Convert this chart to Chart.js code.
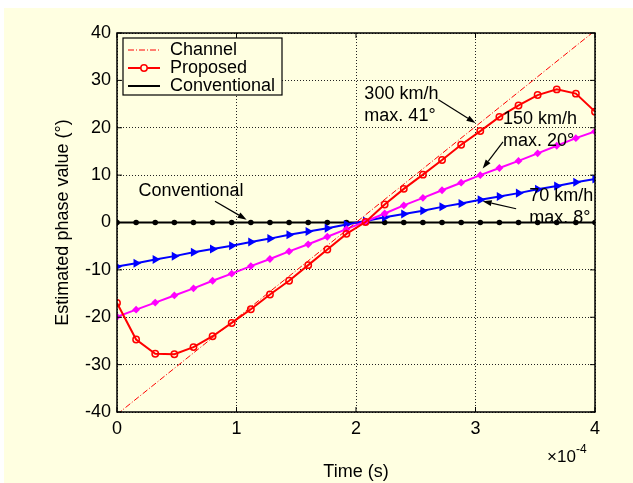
<!DOCTYPE html>
<html>
<head>
<meta charset="utf-8">
<script src="https://cdn.jsdelivr.net/npm/chart.js@4"></script>
<style>
html, body { margin: 0; background: #fff; }
canvas { display: block; }
</style>
</head>
<body>
<canvas id="phaseChart" width="633" height="483"></canvas>
<script>
// time axis in units of 1e-4 s
const timeE4 = [0, 0.16, 0.32, 0.48, 0.64, 0.8, 0.96, 1.12, 1.28, 1.44, 1.6, 1.76, 1.92,
                2.08, 2.24, 2.4, 2.56, 2.72, 2.88, 3.04, 3.2, 3.36, 3.52, 3.68, 3.84, 4.0];
const channelTime = [0, 4];
const channelPhase = [-40.5, 40.5];
const proposed = [-17.0, -24.7, -27.7, -27.8, -26.3, -24.0, -21.2, -18.3, -15.2, -12.3, -9.0, -5.7, -2.4,
                  0.1, 3.8, 7.1, 10.1, 13.2, 16.4, 19.3, 22.3, 24.7, 26.9, 28.1, 27.2, 23.4];
const kmh150 = [-19.9, -18.4, -16.9, -15.4, -13.9, -12.3, -10.8, -9.2, -7.7, -6.1, -4.6, -3.0, -1.4,
                0.2, 1.9, 3.6, 5.2, 6.8, 8.4, 10.0, 11.5, 13.0, 14.6, 16.2, 17.8, 19.2];
const kmh70 = [-9.3, -8.6, -7.8, -7.1, -6.3, -5.6, -4.9, -4.1, -3.4, -2.6, -1.9, -1.2, -0.4,
               0.3, 1.1, 1.8, 2.5, 3.3, 4.0, 4.8, 5.5, 6.2, 7.0, 7.7, 8.5, 9.2];
const conventional = [0, 0, 0, 0, 0, 0, 0, 0, 0, 0, 0, 0, 0, 0, 0, 0, 0, 0, 0, 0, 0, 0, 0, 0, 0, 0];
const xTicks = [0, 1, 2, 3, 4];
const yTicks = [-40, -30, -20, -10, 0, 10, 20, 30, 40];

const FONT = 'Arial, "Liberation Sans", sans-serif';
const CREAM = '#ffffe1';

const pts = (xs, ys) => xs.map((x, i) => ({ x: x, y: ys[i] }));

// text notes and arrows, in data units
const notes = [
    { lines: ['Conventional'], x: 0.18, y: 6.6, arrow: [0.82, 4.5, 1.085, 0.6] },
    { lines: ['300 km/h', 'max. 41\u00b0'], x: 2.07, y: 27.2, arrow: [2.69, 25.9, 3.0, 21.0] },
    { lines: ['150 km/h', 'max. 20\u00b0'], x: 3.23, y: 21.9, arrow: [3.23, 17.0, 3.06, 11.4] },
    { lines: ['70 km/h', 'max. 8\u00b0'], x: 3.45, y: 5.5, arrow: [3.34, 2.9, 3.06, 4.5] }
];

function arrow(ctx, x1, y1, x2, y2) {
    const a = Math.atan2(y2 - y1, x2 - x1);
    const len = 9, half = 3;
    ctx.beginPath();
    ctx.moveTo(x1, y1);
    ctx.lineTo(x2 - len * Math.cos(a), y2 - len * Math.sin(a));
    ctx.stroke();
    ctx.beginPath();
    ctx.moveTo(x2, y2);
    ctx.lineTo(x2 - len * Math.cos(a) + half * Math.sin(a), y2 - len * Math.sin(a) - half * Math.cos(a));
    ctx.lineTo(x2 - len * Math.cos(a) - half * Math.sin(a), y2 - len * Math.sin(a) + half * Math.cos(a));
    ctx.closePath();
    ctx.fill();
}

const matlabLook = {
    id: 'matlabLook',
    beforeDraw(chart) {
        const ctx = chart.ctx;
        ctx.save();
        ctx.fillStyle = '#fff';
        ctx.fillRect(0, 0, chart.width, chart.height);
        ctx.fillStyle = CREAM;
        ctx.fillRect(4, 8, chart.width - 4, chart.height - 8);
        ctx.restore();
    },
    afterDatasetsDraw(chart) {
        const ctx = chart.ctx;
        const a = chart.chartArea;
        const xs = chart.scales.x, ys = chart.scales.y;
        ctx.save();

        // box + inward ticks
        ctx.strokeStyle = '#000';
        ctx.lineWidth = 1.5;
        ctx.strokeRect(a.left, a.top, a.right - a.left, a.bottom - a.top);
        ctx.lineWidth = 1;
        ctx.beginPath();
        xTicks.forEach(t => {
            const px = xs.getPixelForValue(t);
            ctx.moveTo(px, a.bottom); ctx.lineTo(px, a.bottom - 5);
            ctx.moveTo(px, a.top); ctx.lineTo(px, a.top + 5);
        });
        yTicks.forEach(t => {
            const py = ys.getPixelForValue(t);
            ctx.moveTo(a.left, py); ctx.lineTo(a.left + 5, py);
            ctx.moveTo(a.right, py); ctx.lineTo(a.right - 5, py);
        });
        ctx.stroke();

        // notes
        ctx.font = '18px ' + FONT;
        ctx.fillStyle = '#000';
        ctx.textBaseline = 'middle';
        ctx.textAlign = 'left';
        notes.forEach(n => {
            const px = xs.getPixelForValue(n.x), py = ys.getPixelForValue(n.y);
            n.lines.forEach((s, i) => ctx.fillText(s, px, py + i * 22));
            const [x1, y1, x2, y2] = n.arrow;
            ctx.lineWidth = 1.2;
            arrow(ctx, xs.getPixelForValue(x1), ys.getPixelForValue(y1),
                       xs.getPixelForValue(x2), ys.getPixelForValue(y2));
        });

        // legend box
        const lx = a.left + 6, ly = a.top + 5, lw = 159, lh = 57;
        ctx.fillStyle = CREAM;
        ctx.fillRect(lx, ly, lw, lh);
        ctx.lineWidth = 1.2;
        ctx.strokeStyle = '#000';
        ctx.strokeRect(lx, ly, lw, lh);
        const entries = [chart.data.datasets[1], chart.data.datasets[0], chart.data.datasets[4]];
        entries.forEach((ds, i) => {
            const y = ly + 12 + i * 18;
            ctx.strokeStyle = ds.borderColor;
            ctx.lineWidth = ds.borderWidth;
            ctx.setLineDash(ds.borderDash || []);
            ctx.beginPath();
            ctx.moveTo(lx + 5, y); ctx.lineTo(lx + 37, y);
            ctx.stroke();
            ctx.setLineDash([]);
            if (ds.pointStyle === 'circle' && ds.pointRadius > 2) {
                ctx.beginPath();
                ctx.arc(lx + 21, y, ds.pointRadius, 0, Math.PI * 2);
                ctx.fillStyle = CREAM;
                ctx.fill();
                ctx.lineWidth = ds.pointBorderWidth;
                ctx.stroke();
            }
            ctx.fillStyle = '#000';
            ctx.fillText(ds.label, lx + 47, y);
        });

        // x10^-4 exponent
        ctx.font = '17px ' + FONT;
        ctx.fillText('\u00d710', a.right - 48, 457);
        ctx.font = '12px ' + FONT;
        ctx.fillText('-4', a.right - 19, 450);
        ctx.restore();
    }
};

new Chart(document.getElementById('phaseChart'), {
    type: 'scatter',
    data: {
        datasets: [{
            label: 'Proposed',
            data: pts(timeE4, proposed),
            showLine: true,
            borderColor: '#ff0000',
            borderWidth: 2,
            pointStyle: 'circle',
            pointRadius: 3.2,
            pointBorderWidth: 1.5,
            pointBackgroundColor: 'rgba(0,0,0,0)',
            pointBorderColor: '#ff0000'
        }, {
            label: 'Channel',
            data: pts(channelTime, channelPhase),
            showLine: true,
            borderColor: '#ff0000',
            borderWidth: 1,
            borderDash: [6, 2, 1, 2],
            pointRadius: 0
        }, {
            label: '150 km/h',
            data: pts(timeE4, kmh150),
            showLine: true,
            borderColor: '#ff00ff',
            borderWidth: 2,
            pointStyle: 'rectRot',
            pointRadius: 2.5,
            pointBackgroundColor: '#ff00ff',
            pointBorderColor: '#ff00ff'
        }, {
            label: '70 km/h',
            data: pts(timeE4, kmh70),
            showLine: true,
            borderColor: '#0000ff',
            borderWidth: 2,
            pointStyle: 'triangle',
            rotation: 90,
            pointRadius: 3.2,
            pointBackgroundColor: '#0000ff',
            pointBorderColor: '#0000ff'
        }, {
            label: 'Conventional',
            data: pts(timeE4, conventional),
            showLine: true,
            borderColor: '#000000',
            borderWidth: 2,
            pointStyle: 'circle',
            pointRadius: 1.8,
            pointBackgroundColor: '#000000',
            pointBorderColor: '#000000'
        }]
    },
    options: {
        responsive: false,
        animation: false,
        devicePixelRatio: 1,
        layout: { padding: { left: 0, right: 38, top: 33, bottom: 0 } },
        plugins: { legend: { display: false }, tooltip: { enabled: false } },
        elements: { line: { tension: 0 } },
        scales: {
            x: {
                type: 'linear',
                min: 0, max: 4,
                afterFit: s => { s.height = 71; },
                afterBuildTicks: s => { s.ticks = xTicks.map(v => ({ value: v })); },
                ticks: { color: '#000', padding: 6, font: { family: FONT, size: 18 } },
                grid: { color: '#222', lineWidth: 1, drawTicks: false },
                border: { display: false, dash: [1, 2] },
                title: { display: true, text: 'Time (s)', color: '#000', padding: { top: 14, bottom: 0 },
                         font: { family: FONT, size: 18 } }
            },
            y: {
                min: -40, max: 40,
                afterFit: s => { s.width = 117; },
                afterBuildTicks: s => { s.ticks = yTicks.map(v => ({ value: v })); },
                ticks: { color: '#000', padding: 6, font: { family: FONT, size: 18 } },
                grid: { color: '#222', lineWidth: 1, drawTicks: false },
                border: { display: false, dash: [1, 2] },
                title: { display: true, text: 'Estimated phase value (\u00b0)', color: '#000',
                         padding: { top: 52, bottom: 0 }, font: { family: FONT, size: 18 } }
            }
        }
    },
    plugins: [matlabLook]
});
</script>
</body>
</html>
